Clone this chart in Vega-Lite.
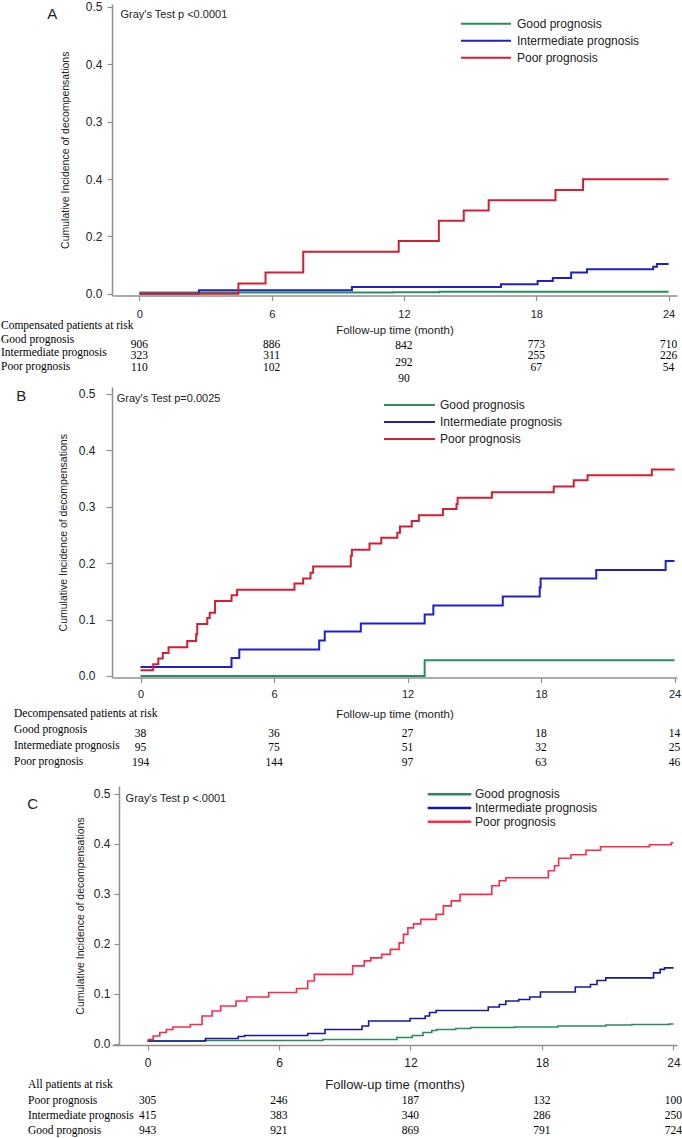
{
"$schema": "https://vega.github.io/schema/vega-lite/v6.json",
"padding": 0,
"background": "white",
"spacing": 0,
"bounds": "flush",
"config": {
  "view": {"stroke": null},
  "axis": {"grid": false, "labelFont": "Liberation Sans", "titleFont": "Liberation Sans", "domainColor": "#8f8f8f", "tickColor": "#8f8f8f", "domainWidth": 1.5, "tickWidth": 1.2, "labelColor": "#222222", "titleColor": "#222222", "titleFontWeight": "normal"},
  "text": {"font": "Liberation Sans", "color": "#222222"}
},
"resolve": {"scale": {"x": "independent", "y": "independent", "color": "independent"}, "legend": {"color": "independent"}},
"datasets": {
  "curves": [
    {"panel":"A","group":"Good prognosis","month":0,"ci":0.002},
    {"panel":"A","group":"Good prognosis","month":11.5,"ci":0.0025},
    {"panel":"A","group":"Good prognosis","month":13.6,"ci":0.0035},
    {"panel":"A","group":"Good prognosis","month":24,"ci":0.0035},
    {"panel":"A","group":"Intermediate prognosis","month":0,"ci":0},
    {"panel":"A","group":"Intermediate prognosis","month":2.7,"ci":0.006},
    {"panel":"A","group":"Intermediate prognosis","month":9.64,"ci":0.0117},
    {"panel":"A","group":"Intermediate prognosis","month":16.4,"ci":0.0164},
    {"panel":"A","group":"Intermediate prognosis","month":18.06,"ci":0.022},
    {"panel":"A","group":"Intermediate prognosis","month":18.75,"ci":0.0274},
    {"panel":"A","group":"Intermediate prognosis","month":19.58,"ci":0.037},
    {"panel":"A","group":"Intermediate prognosis","month":20.3,"ci":0.0425},
    {"panel":"A","group":"Intermediate prognosis","month":23.3,"ci":0.047},
    {"panel":"A","group":"Intermediate prognosis","month":23.47,"ci":0.052},
    {"panel":"A","group":"Intermediate prognosis","month":24,"ci":0.052},
    {"panel":"A","group":"Poor prognosis","month":0,"ci":0},
    {"panel":"A","group":"Poor prognosis","month":4.49,"ci":0.018},
    {"panel":"A","group":"Poor prognosis","month":5.72,"ci":0.037},
    {"panel":"A","group":"Poor prognosis","month":7.43,"ci":0.073},
    {"panel":"A","group":"Poor prognosis","month":11.76,"ci":0.092},
    {"panel":"A","group":"Poor prognosis","month":13.58,"ci":0.127},
    {"panel":"A","group":"Poor prognosis","month":14.71,"ci":0.145},
    {"panel":"A","group":"Poor prognosis","month":15.84,"ci":0.163},
    {"panel":"A","group":"Poor prognosis","month":18.87,"ci":0.181},
    {"panel":"A","group":"Poor prognosis","month":20.12,"ci":0.1995},
    {"panel":"A","group":"Poor prognosis","month":24,"ci":0.1995},
    {"panel":"B","group":"Good prognosis","month":0,"ci":0},
    {"panel":"B","group":"Good prognosis","month":12.77,"ci":0.028},
    {"panel":"B","group":"Good prognosis","month":24,"ci":0.028},
    {"panel":"B","group":"Intermediate prognosis","month":0,"ci":0.016},
    {"panel":"B","group":"Intermediate prognosis","month":4.09,"ci":0.032},
    {"panel":"B","group":"Intermediate prognosis","month":4.44,"ci":0.047},
    {"panel":"B","group":"Intermediate prognosis","month":8.03,"ci":0.063},
    {"panel":"B","group":"Intermediate prognosis","month":8.28,"ci":0.079},
    {"panel":"B","group":"Intermediate prognosis","month":9.9,"ci":0.093},
    {"panel":"B","group":"Intermediate prognosis","month":12.77,"ci":0.109},
    {"panel":"B","group":"Intermediate prognosis","month":13.16,"ci":0.125},
    {"panel":"B","group":"Intermediate prognosis","month":16.28,"ci":0.141},
    {"panel":"B","group":"Intermediate prognosis","month":17.94,"ci":0.157},
    {"panel":"B","group":"Intermediate prognosis","month":17.98,"ci":0.173},
    {"panel":"B","group":"Intermediate prognosis","month":20.48,"ci":0.188},
    {"panel":"B","group":"Intermediate prognosis","month":23.6,"ci":0.204},
    {"panel":"B","group":"Intermediate prognosis","month":24,"ci":0.204},
    {"panel":"B","group":"Poor prognosis","month":0,"ci":0.01},
    {"panel":"B","group":"Poor prognosis","month":0.57,"ci":0.021},
    {"panel":"B","group":"Poor prognosis","month":0.8,"ci":0.031},
    {"panel":"B","group":"Poor prognosis","month":1.0,"ci":0.041},
    {"panel":"B","group":"Poor prognosis","month":1.26,"ci":0.051},
    {"panel":"B","group":"Poor prognosis","month":2.1,"ci":0.062},
    {"panel":"B","group":"Poor prognosis","month":2.5,"ci":0.074},
    {"panel":"B","group":"Poor prognosis","month":2.55,"ci":0.092},
    {"panel":"B","group":"Poor prognosis","month":3.0,"ci":0.103},
    {"panel":"B","group":"Poor prognosis","month":3.11,"ci":0.112},
    {"panel":"B","group":"Poor prognosis","month":3.35,"ci":0.133},
    {"panel":"B","group":"Poor prognosis","month":4.09,"ci":0.143},
    {"panel":"B","group":"Poor prognosis","month":4.34,"ci":0.153},
    {"panel":"B","group":"Poor prognosis","month":6.92,"ci":0.164},
    {"panel":"B","group":"Poor prognosis","month":7.31,"ci":0.173},
    {"panel":"B","group":"Poor prognosis","month":7.64,"ci":0.183},
    {"panel":"B","group":"Poor prognosis","month":7.76,"ci":0.194},
    {"panel":"B","group":"Poor prognosis","month":9.45,"ci":0.213},
    {"panel":"B","group":"Poor prognosis","month":9.5,"ci":0.224},
    {"panel":"B","group":"Poor prognosis","month":10.29,"ci":0.235},
    {"panel":"B","group":"Poor prognosis","month":10.82,"ci":0.245},
    {"panel":"B","group":"Poor prognosis","month":11.54,"ci":0.254},
    {"panel":"B","group":"Poor prognosis","month":11.66,"ci":0.265},
    {"panel":"B","group":"Poor prognosis","month":12.19,"ci":0.275},
    {"panel":"B","group":"Poor prognosis","month":12.51,"ci":0.285},
    {"panel":"B","group":"Poor prognosis","month":13.59,"ci":0.296},
    {"panel":"B","group":"Poor prognosis","month":14.2,"ci":0.305},
    {"panel":"B","group":"Poor prognosis","month":14.25,"ci":0.316},
    {"panel":"B","group":"Poor prognosis","month":15.79,"ci":0.326},
    {"panel":"B","group":"Poor prognosis","month":18.57,"ci":0.336},
    {"panel":"B","group":"Poor prognosis","month":19.47,"ci":0.347},
    {"panel":"B","group":"Poor prognosis","month":20.09,"ci":0.356},
    {"panel":"B","group":"Poor prognosis","month":22.98,"ci":0.366},
    {"panel":"B","group":"Poor prognosis","month":24,"ci":0.366},
    {"panel":"C","group":"Good prognosis","month":0,"ci":0.006},
    {"panel":"C","group":"Good prognosis","month":2.6,"ci":0.007},
    {"panel":"C","group":"Good prognosis","month":8.0,"ci":0.009},
    {"panel":"C","group":"Good prognosis","month":11.38,"ci":0.013},
    {"panel":"C","group":"Good prognosis","month":12.08,"ci":0.017},
    {"panel":"C","group":"Good prognosis","month":12.57,"ci":0.023},
    {"panel":"C","group":"Good prognosis","month":12.97,"ci":0.027},
    {"panel":"C","group":"Good prognosis","month":13.2,"ci":0.029},
    {"panel":"C","group":"Good prognosis","month":14.06,"ci":0.031},
    {"panel":"C","group":"Good prognosis","month":14.75,"ci":0.033},
    {"panel":"C","group":"Good prognosis","month":16.74,"ci":0.034},
    {"panel":"C","group":"Good prognosis","month":18.73,"ci":0.036},
    {"panel":"C","group":"Good prognosis","month":20.91,"ci":0.038},
    {"panel":"C","group":"Good prognosis","month":22.1,"ci":0.039},
    {"panel":"C","group":"Good prognosis","month":23.8,"ci":0.04},
    {"panel":"C","group":"Good prognosis","month":24,"ci":0.04},
    {"panel":"C","group":"Intermediate prognosis","month":0,"ci":0.006},
    {"panel":"C","group":"Intermediate prognosis","month":2.65,"ci":0.011},
    {"panel":"C","group":"Intermediate prognosis","month":4.14,"ci":0.015},
    {"panel":"C","group":"Intermediate prognosis","month":4.43,"ci":0.017},
    {"panel":"C","group":"Intermediate prognosis","month":7.31,"ci":0.021},
    {"panel":"C","group":"Intermediate prognosis","month":8.1,"ci":0.029},
    {"panel":"C","group":"Intermediate prognosis","month":9.79,"ci":0.036},
    {"panel":"C","group":"Intermediate prognosis","month":10.09,"ci":0.046},
    {"panel":"C","group":"Intermediate prognosis","month":11.98,"ci":0.051},
    {"panel":"C","group":"Intermediate prognosis","month":12.67,"ci":0.056},
    {"panel":"C","group":"Intermediate prognosis","month":12.87,"ci":0.063},
    {"panel":"C","group":"Intermediate prognosis","month":13.17,"ci":0.067},
    {"panel":"C","group":"Intermediate prognosis","month":15.55,"ci":0.074},
    {"panel":"C","group":"Intermediate prognosis","month":16.05,"ci":0.079},
    {"panel":"C","group":"Intermediate prognosis","month":16.35,"ci":0.086},
    {"panel":"C","group":"Intermediate prognosis","month":16.94,"ci":0.089},
    {"panel":"C","group":"Intermediate prognosis","month":17.44,"ci":0.094},
    {"panel":"C","group":"Intermediate prognosis","month":17.93,"ci":0.104},
    {"panel":"C","group":"Intermediate prognosis","month":19.52,"ci":0.114},
    {"panel":"C","group":"Intermediate prognosis","month":20.21,"ci":0.119},
    {"panel":"C","group":"Intermediate prognosis","month":20.51,"ci":0.127},
    {"panel":"C","group":"Intermediate prognosis","month":20.91,"ci":0.132},
    {"panel":"C","group":"Intermediate prognosis","month":23.09,"ci":0.142},
    {"panel":"C","group":"Intermediate prognosis","month":23.39,"ci":0.149},
    {"panel":"C","group":"Intermediate prognosis","month":23.59,"ci":0.152},
    {"panel":"C","group":"Intermediate prognosis","month":24,"ci":0.152},
    {"panel":"C","group":"Poor prognosis","month":0,"ci":0.009},
    {"panel":"C","group":"Poor prognosis","month":0.26,"ci":0.016},
    {"panel":"C","group":"Poor prognosis","month":0.56,"ci":0.023},
    {"panel":"C","group":"Poor prognosis","month":0.86,"ci":0.029},
    {"panel":"C","group":"Poor prognosis","month":1.16,"ci":0.034},
    {"panel":"C","group":"Poor prognosis","month":1.95,"ci":0.039},
    {"panel":"C","group":"Poor prognosis","month":2.49,"ci":0.056},
    {"panel":"C","group":"Poor prognosis","month":2.95,"ci":0.066},
    {"panel":"C","group":"Poor prognosis","month":3.34,"ci":0.076},
    {"panel":"C","group":"Poor prognosis","month":4.04,"ci":0.086},
    {"panel":"C","group":"Poor prognosis","month":4.53,"ci":0.094},
    {"panel":"C","group":"Poor prognosis","month":5.53,"ci":0.103},
    {"panel":"C","group":"Poor prognosis","month":6.8,"ci":0.111},
    {"panel":"C","group":"Poor prognosis","month":7.31,"ci":0.126},
    {"panel":"C","group":"Poor prognosis","month":7.61,"ci":0.139},
    {"panel":"C","group":"Poor prognosis","month":9.36,"ci":0.156},
    {"panel":"C","group":"Poor prognosis","month":9.89,"ci":0.166},
    {"panel":"C","group":"Poor prognosis","month":10.19,"ci":0.172},
    {"panel":"C","group":"Poor prognosis","month":10.69,"ci":0.179},
    {"panel":"C","group":"Poor prognosis","month":11.08,"ci":0.189},
    {"panel":"C","group":"Poor prognosis","month":11.48,"ci":0.202},
    {"panel":"C","group":"Poor prognosis","month":11.68,"ci":0.219},
    {"panel":"C","group":"Poor prognosis","month":11.88,"ci":0.232},
    {"panel":"C","group":"Poor prognosis","month":12.14,"ci":0.24},
    {"panel":"C","group":"Poor prognosis","month":12.47,"ci":0.249},
    {"panel":"C","group":"Poor prognosis","month":13.17,"ci":0.259},
    {"panel":"C","group":"Poor prognosis","month":13.5,"ci":0.276},
    {"panel":"C","group":"Poor prognosis","month":13.86,"ci":0.286},
    {"panel":"C","group":"Poor prognosis","month":14.26,"ci":0.299},
    {"panel":"C","group":"Poor prognosis","month":15.71,"ci":0.316},
    {"panel":"C","group":"Poor prognosis","month":16.05,"ci":0.326},
    {"panel":"C","group":"Poor prognosis","month":16.35,"ci":0.332},
    {"panel":"C","group":"Poor prognosis","month":18.29,"ci":0.346},
    {"panel":"C","group":"Poor prognosis","month":18.57,"ci":0.356},
    {"panel":"C","group":"Poor prognosis","month":18.76,"ci":0.371},
    {"panel":"C","group":"Poor prognosis","month":19.32,"ci":0.378},
    {"panel":"C","group":"Poor prognosis","month":20.01,"ci":0.387},
    {"panel":"C","group":"Poor prognosis","month":20.67,"ci":0.394},
    {"panel":"C","group":"Poor prognosis","month":22.9,"ci":0.398},
    {"panel":"C","group":"Poor prognosis","month":23.9,"ci":0.402},
    {"panel":"C","group":"Poor prognosis","month":24,"ci":0.402}
  ],
  "risk": [
    {"panel":"A","group":"Good prognosis","month":0,"n":906},
    {"panel":"A","group":"Good prognosis","month":6,"n":886},
    {"panel":"A","group":"Good prognosis","month":12,"n":842},
    {"panel":"A","group":"Good prognosis","month":18,"n":773},
    {"panel":"A","group":"Good prognosis","month":24,"n":710},
    {"panel":"A","group":"Intermediate prognosis","month":0,"n":323},
    {"panel":"A","group":"Intermediate prognosis","month":6,"n":311},
    {"panel":"A","group":"Intermediate prognosis","month":12,"n":292},
    {"panel":"A","group":"Intermediate prognosis","month":18,"n":255},
    {"panel":"A","group":"Intermediate prognosis","month":24,"n":226},
    {"panel":"A","group":"Poor prognosis","month":0,"n":110},
    {"panel":"A","group":"Poor prognosis","month":6,"n":102},
    {"panel":"A","group":"Poor prognosis","month":12,"n":90},
    {"panel":"A","group":"Poor prognosis","month":18,"n":67},
    {"panel":"A","group":"Poor prognosis","month":24,"n":54},
    {"panel":"B","group":"Good prognosis","month":0,"n":38},
    {"panel":"B","group":"Good prognosis","month":6,"n":36},
    {"panel":"B","group":"Good prognosis","month":12,"n":27},
    {"panel":"B","group":"Good prognosis","month":18,"n":18},
    {"panel":"B","group":"Good prognosis","month":24,"n":14},
    {"panel":"B","group":"Intermediate prognosis","month":0,"n":95},
    {"panel":"B","group":"Intermediate prognosis","month":6,"n":75},
    {"panel":"B","group":"Intermediate prognosis","month":12,"n":51},
    {"panel":"B","group":"Intermediate prognosis","month":18,"n":32},
    {"panel":"B","group":"Intermediate prognosis","month":24,"n":25},
    {"panel":"B","group":"Poor prognosis","month":0,"n":194},
    {"panel":"B","group":"Poor prognosis","month":6,"n":144},
    {"panel":"B","group":"Poor prognosis","month":12,"n":97},
    {"panel":"B","group":"Poor prognosis","month":18,"n":63},
    {"panel":"B","group":"Poor prognosis","month":24,"n":46},
    {"panel":"C","group":"Poor prognosis","month":0,"n":305},
    {"panel":"C","group":"Poor prognosis","month":6,"n":246},
    {"panel":"C","group":"Poor prognosis","month":12,"n":187},
    {"panel":"C","group":"Poor prognosis","month":18,"n":132},
    {"panel":"C","group":"Poor prognosis","month":24,"n":100},
    {"panel":"C","group":"Intermediate prognosis","month":0,"n":415},
    {"panel":"C","group":"Intermediate prognosis","month":6,"n":383},
    {"panel":"C","group":"Intermediate prognosis","month":12,"n":340},
    {"panel":"C","group":"Intermediate prognosis","month":18,"n":286},
    {"panel":"C","group":"Intermediate prognosis","month":24,"n":250},
    {"panel":"C","group":"Good prognosis","month":0,"n":943},
    {"panel":"C","group":"Good prognosis","month":6,"n":921},
    {"panel":"C","group":"Good prognosis","month":12,"n":869},
    {"panel":"C","group":"Good prognosis","month":18,"n":791},
    {"panel":"C","group":"Good prognosis","month":24,"n":724}
  ],
  "rowlabels": [
    {"panel":"A","label":"Compensated patients at risk"},
    {"panel":"A","label":"Good prognosis"},
    {"panel":"A","label":"Intermediate prognosis"},
    {"panel":"A","label":"Poor prognosis"},
    {"panel":"B","label":"Decompensated patients at risk"},
    {"panel":"B","label":"Good prognosis"},
    {"panel":"B","label":"Intermediate prognosis"},
    {"panel":"B","label":"Poor prognosis"},
    {"panel":"C","label":"All patients at risk"},
    {"panel":"C","label":"Poor prognosis"},
    {"panel":"C","label":"Intermediate prognosis"},
    {"panel":"C","label":"Good prognosis"}
  ]
},
"vconcat": [
  {
    "width": 565, "height": 291.5,
    "layer": [
      {
        "data": {"name": "curves"},
        "transform": [{"filter": "datum.panel == 'A'"}],
        "mark": {"type": "line", "interpolate": "step-after", "strokeWidth": 2},
        "encoding": {
          "x": {"field": "month", "type": "quantitative", "scale": {"domain": [-1.2426, 24.381], "nice": false, "zero": false},
                "axis": {"values": [0, 6, 12, 18, 24], "format": "d", "title": "Follow-up time (month)", "tickSize": 5, "labelPadding": 8, "labelFontSize": 11, "titleFontSize": 11.5, "titlePadding": 5, "labelFlush": false}},
          "y": {"field": "ci", "type": "quantitative", "scale": {"domain": [-0.00314, 0.5052], "nice": false, "zero": false},
                "axis": {"values": [0, 0.1, 0.2, 0.3, 0.4, 0.5], "labelExpr": "datum.value < 0.05 ? '0.0' : datum.value < 0.15 ? '0.2' : datum.value < 0.25 ? '0.4' : format(datum.value, '.1f')", "tickSize": 5, "labelPadding": 5, "labelFontSize": 12, "title": "Cumulative Incidence of decompensations", "titleFontSize": 10.5, "titlePadding": 15}},
          "color": {"field": "group", "type": "nominal",
                    "scale": {"domain": ["Good prognosis", "Intermediate prognosis", "Poor prognosis"], "range": ["#2a8f5c", "#1f1fd0", "#d21f33"]},
                    "legend": {"orient": "none", "legendX": 348, "legendY": 13.7, "title": null, "symbolType": "stroke", "symbolSize": 2500, "symbolStrokeWidth": 2, "clipHeight": 12, "rowPadding": 5, "labelFontSize": 12, "labelFont": "Liberation Sans", "labelColor": "#222222", "labelOffset": 5, "padding": 0}}
        }
      },
      {
        "data": {"values": [{}]},
        "mark": {"type": "text", "align": "left", "baseline": "middle", "fontSize": 11, "text": "Gray's Test p <0.0001"},
        "encoding": {"x": {"datum": -0.857, "type": "quantitative"}, "y": {"datum": 0.486, "type": "quantitative"}}
      },
      {
        "data": {"values": [{}]},
        "mark": {"type": "text", "align": "center", "baseline": "middle", "fontSize": 15, "text": "A"},
        "encoding": {"x": {"datum": -3.95, "type": "quantitative"}, "y": {"datum": 0.487, "type": "quantitative"}}
      }
    ]
  },
  {
    "width": 565, "height": 90.3,
    "resolve": {"scale": {"y": "independent"}, "axis": {"y": "independent"}},
    "layer": [
      {
        "data": {"name": "rowlabels"},
        "transform": [{"filter": "datum.panel == 'A'"}],
        "mark": {"type": "point", "opacity": 0},
        "encoding": {
          "x": {"datum": 0, "type": "quantitative", "scale": {"domain": [-1.2426, 24.381], "nice": false, "zero": false}, "axis": null},
          "y": {"field": "label", "type": "nominal", "sort": null, "scale": {"type": "point", "range": [29.9, 70.1], "padding": 0},
                "axis": {"orient": "left", "domain": false, "ticks": false, "tickSize": 0, "labelAlign": "left", "labelBaseline": "middle", "labelPadding": 111.5, "labelFont": "Liberation Serif", "labelFontSize": 11.5, "labelColor": "black", "title": null, "labelOverlap": false, "labelLimit": 400}}
        }
      },
      {
        "data": {"name": "risk"},
        "transform": [{"filter": "datum.panel == 'A' && datum.month != 12"}],
        "mark": {"type": "text", "font": "Liberation Serif", "fontSize": 11.5, "baseline": "middle", "color": "black"},
        "encoding": {
          "x": {"field": "month", "type": "quantitative"},
          "y": {"field": "group", "type": "nominal", "scale": {"type": "point", "domain": ["Good prognosis", "Intermediate prognosis", "Poor prognosis"], "range": [49.2, 71.5], "padding": 0}, "axis": null},
          "text": {"field": "n", "type": "quantitative"}
        }
      },
      {
        "data": {"name": "risk"},
        "transform": [{"filter": "datum.panel == 'A' && datum.month == 12"}],
        "mark": {"type": "text", "font": "Liberation Serif", "fontSize": 11.5, "baseline": "middle", "color": "black"},
        "encoding": {
          "x": {"field": "month", "type": "quantitative"},
          "y": {"field": "group", "type": "nominal", "scale": {"type": "point", "domain": ["Good prognosis", "Intermediate prognosis", "Poor prognosis"], "range": [50.2, 83.2], "padding": 0}, "axis": null},
          "text": {"field": "n", "type": "quantitative"}
        }
      }
    ]
  },
  {
    "width": 565, "height": 290.5,
    "layer": [
      {
        "data": {"name": "curves"},
        "transform": [{"filter": "datum.panel == 'B'"}],
        "mark": {"type": "line", "interpolate": "step-after", "strokeWidth": 2},
        "encoding": {
          "x": {"field": "month", "type": "quantitative", "scale": {"domain": [-1.281, 24.11], "nice": false, "zero": false},
                "axis": {"values": [0, 6, 12, 18, 24], "format": "d", "title": "Follow-up time (month)", "tickSize": 5, "labelPadding": 6, "labelFontSize": 11, "titleFontSize": 11.5, "titlePadding": 9, "labelFlush": false}},
          "y": {"field": "ci", "type": "quantitative", "scale": {"domain": [-0.00266, 0.5124], "nice": false, "zero": false},
                "axis": {"values": [0, 0.1, 0.2, 0.3, 0.4, 0.5], "format": ".1f", "tickSize": 6, "labelPadding": 11, "labelFontSize": 12, "title": "Cumulative Incidence of decompensations", "titleFontSize": 10.5, "titlePadding": 10}},
          "color": {"field": "group", "type": "nominal",
                    "scale": {"domain": ["Good prognosis", "Intermediate prognosis", "Poor prognosis"], "range": ["#2a8f5c", "#1f1fd0", "#d21f33"]},
                    "legend": {"orient": "none", "legendX": 271, "legendY": 12, "title": null, "symbolType": "stroke", "symbolSize": 2600, "symbolStrokeWidth": 2, "clipHeight": 12, "rowPadding": 5, "labelFontSize": 12, "labelFont": "Liberation Sans", "labelColor": "#222222", "labelOffset": 4, "padding": 0}}
        }
      },
      {
        "data": {"values": [{}]},
        "mark": {"type": "text", "align": "left", "baseline": "middle", "fontSize": 11, "text": "Gray's Test p=0.0025"},
        "encoding": {"x": {"datum": -1.07, "type": "quantitative"}, "y": {"datum": 0.491, "type": "quantitative"}}
      },
      {
        "data": {"values": [{}]},
        "mark": {"type": "text", "align": "center", "baseline": "middle", "fontSize": 15, "text": "B"},
        "encoding": {"x": {"datum": -5.36, "type": "quantitative"}, "y": {"datum": 0.496, "type": "quantitative"}}
      }
    ]
  },
  {
    "width": 565, "height": 107.2,
    "resolve": {"scale": {"y": "independent"}, "axis": {"y": "independent"}},
    "layer": [
      {
        "data": {"name": "rowlabels"},
        "transform": [{"filter": "datum.panel == 'B'"}],
        "mark": {"type": "point", "opacity": 0},
        "encoding": {
          "x": {"datum": 0, "type": "quantitative", "scale": {"domain": [-1.281, 24.11], "nice": false, "zero": false}, "axis": null},
          "y": {"field": "label", "type": "nominal", "sort": null, "scale": {"type": "point", "range": [35.5, 83.9], "padding": 0},
                "axis": {"orient": "left", "domain": false, "ticks": false, "tickSize": 0, "labelAlign": "left", "labelBaseline": "middle", "labelPadding": 98.5, "labelFont": "Liberation Serif", "labelFontSize": 11.5, "labelColor": "black", "title": null, "labelOverlap": false, "labelLimit": 400}}
        }
      },
      {
        "data": {"name": "risk"},
        "transform": [{"filter": "datum.panel == 'B'"}],
        "mark": {"type": "text", "font": "Liberation Serif", "fontSize": 11.5, "baseline": "middle", "color": "black"},
        "encoding": {
          "x": {"field": "month", "type": "quantitative"},
          "y": {"field": "group", "type": "nominal", "scale": {"type": "point", "domain": ["Good prognosis", "Intermediate prognosis", "Poor prognosis"], "range": [55.7, 85], "padding": 0}, "axis": null},
          "text": {"field": "n", "type": "quantitative"}
        }
      }
    ]
  },
  {
    "width": 565, "height": 259,
    "layer": [
      {
        "data": {"name": "curves"},
        "transform": [{"filter": "datum.panel == 'C'"}],
        "mark": {"type": "line", "interpolate": "step-after", "strokeWidth": 1.6},
        "encoding": {
          "x": {"field": "month", "type": "quantitative", "scale": {"domain": [-1.6198, 24.16], "nice": false, "zero": false},
                "axis": {"values": [0, 6, 12, 18, 24], "format": "d", "title": "Follow-up time (months)", "tickSize": 5, "labelPadding": 7, "labelFontSize": 12, "titleFontSize": 13, "titlePadding": 10, "labelFlush": false}},
          "y": {"field": "ci", "type": "quantitative", "scale": {"domain": [-0.002, 0.5154], "nice": false, "zero": false},
                "axis": {"offset": -7, "values": [0, 0.1, 0.2, 0.3, 0.4, 0.5], "format": ".1f", "tickSize": 5, "labelPadding": 4, "labelFontSize": 12, "title": "Cumulative Incidence of decompensations", "titleFontSize": 10.5, "titlePadding": 8}},
          "color": {"field": "group", "type": "nominal",
                    "scale": {"domain": ["Good prognosis", "Intermediate prognosis", "Poor prognosis"], "range": ["#2a8a5e", "#18189a", "#ff2a4a"]},
                    "legend": {"orient": "none", "legendX": 314, "legendY": 2.3, "title": null, "symbolType": "stroke", "symbolSize": 1900, "symbolStrokeWidth": 2.5, "clipHeight": 12, "rowPadding": 1.7, "labelFontSize": 12, "labelFont": "Liberation Sans", "labelColor": "#222222", "labelOffset": 2, "padding": 0}}
        }
      },
      {
        "data": {"values": [{}]},
        "mark": {"type": "text", "align": "left", "baseline": "middle", "fontSize": 11, "text": "Gray's Test p <.0001"},
        "encoding": {"x": {"datum": -1.0, "type": "quantitative"}, "y": {"datum": 0.489, "type": "quantitative"}}
      },
      {
        "data": {"values": [{}]},
        "mark": {"type": "text", "align": "center", "baseline": "middle", "fontSize": 15, "text": "C"},
        "encoding": {"x": {"datum": -5.24, "type": "quantitative"}, "y": {"datum": 0.479, "type": "quantitative"}}
      }
    ]
  },
  {
    "width": 565, "height": 94,
    "resolve": {"scale": {"y": "independent"}, "axis": {"y": "independent"}},
    "layer": [
      {
        "data": {"name": "rowlabels"},
        "transform": [{"filter": "datum.panel == 'C'"}],
        "mark": {"type": "point", "opacity": 0},
        "encoding": {
          "x": {"datum": 0, "type": "quantitative", "scale": {"domain": [-1.6198, 24.16], "nice": false, "zero": false}, "axis": null},
          "y": {"field": "label", "type": "nominal", "sort": null, "scale": {"type": "point", "range": [39.7, 85.7], "padding": 0},
                "axis": {"orient": "left", "domain": false, "ticks": false, "tickSize": 0, "labelAlign": "left", "labelBaseline": "middle", "labelPadding": 84.5, "labelFont": "Liberation Serif", "labelFontSize": 11.5, "labelColor": "black", "title": null, "labelOverlap": false, "labelLimit": 400}}
        }
      },
      {
        "data": {"name": "risk"},
        "transform": [{"filter": "datum.panel == 'C'"}],
        "mark": {"type": "text", "font": "Liberation Serif", "fontSize": 11.5, "baseline": "middle", "color": "black"},
        "encoding": {
          "x": {"field": "month", "type": "quantitative"},
          "y": {"field": "group", "type": "nominal", "scale": {"type": "point", "domain": ["Poor prognosis", "Intermediate prognosis", "Good prognosis"], "range": [55.7, 85.7], "padding": 0}, "axis": null},
          "text": {"field": "n", "type": "quantitative"}
        }
      }
    ]
  }
]
}
